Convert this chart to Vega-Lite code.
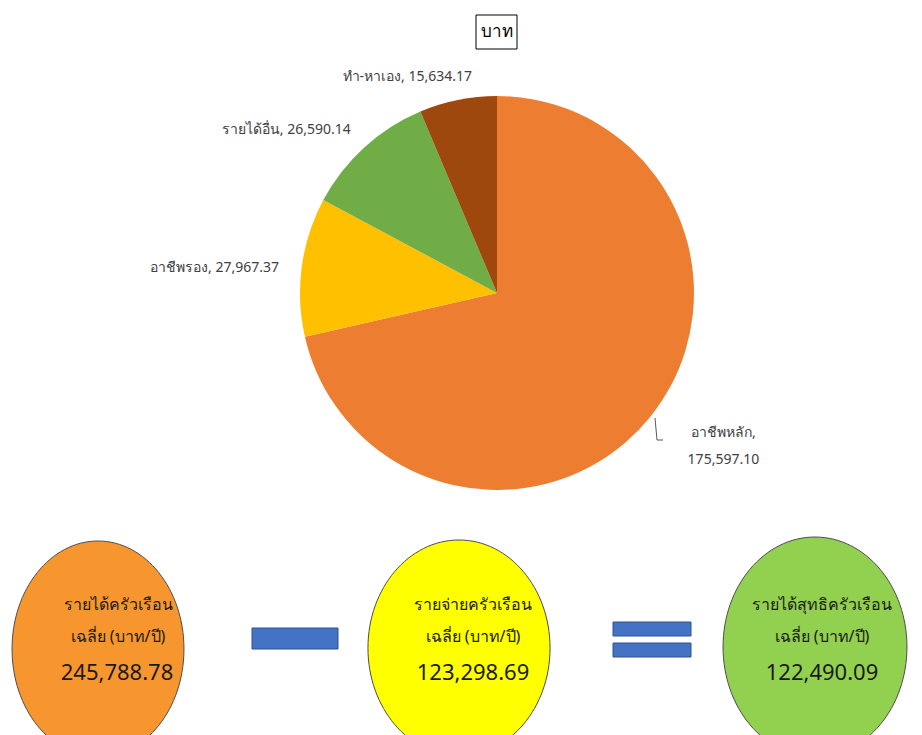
{
  "$schema": "https://vega.github.io/schema/vega-lite/v6.json",
  "width": 922,
  "height": 735,
  "autosize": {"type": "none"},
  "padding": 0,
  "background": "white",
  "config": {
    "view": {"stroke": null},
    "axis": {"disable": true},
    "font": "Tahoma, 'Noto Sans', 'DejaVu Sans', sans-serif"
  },
  "datasets": {
    "pie": [
      {"k": "main", "name": "อาชีพหลัก", "value": 175597.10, "order": 1, "label": "อาชีพหลัก, 175,597.10"},
      {"k": "second", "name": "อาชีพรอง", "value": 27967.37, "order": 2, "label": "อาชีพรอง, 27,967.37"},
      {"k": "other", "name": "รายได้อื่น", "value": 26590.14, "order": 3, "label": "รายได้อื่น, 26,590.14"},
      {"k": "self", "name": "ทำ-หาเอง", "value": 15634.17, "order": 4, "label": "ทำ-หาเอง, 15,634.17"}
    ],
    "summary": [
      {"k": "income", "title": "รายได้ครัวเรือน\nเฉลี่ย (บาท/ปี)", "amount": 245788.78},
      {"k": "expense", "title": "รายจ่ายครัวเรือน\nเฉลี่ย (บาท/ปี)", "amount": 123298.69},
      {"k": "net", "title": "รายได้สุทธิครัวเรือน\nเฉลี่ย (บาท/ปี)", "amount": 122490.09}
    ],
    "one": [{}]
  },
  "layer": [
    {
      "data": {"name": "pie"},
      "mark": {"type": "arc", "outerRadius": 197},
      "encoding": {
        "x": {"datum": 497, "type": "quantitative", "scale": {"domain": [0, 922], "nice": false, "zero": false}},
        "y": {"datum": 293, "type": "quantitative", "scale": {"domain": [0, 735], "nice": false, "zero": false, "reverse": true}},
        "theta": {"field": "value", "type": "quantitative", "stack": true},
        "order": {"field": "order", "type": "quantitative"},
        "color": {
          "field": "name", "type": "nominal",
          "scale": {"domain": ["อาชีพหลัก", "อาชีพรอง", "รายได้อื่น", "ทำ-หาเอง"], "range": ["#ED7D31", "#FFC000", "#70AD47", "#9E480E"]},
          "legend": null
        }
      }
    },
    {
      "data": {"name": "pie"},
      "mark": {"type": "text", "radius": 250, "dx": 31, "dy": -16, "fontSize": 14, "fill": "#404040", "lineBreak": " ", "lineHeight": 27, "align": "center", "baseline": "middle"},
      "encoding": {
        "x": {"datum": 497, "type": "quantitative"},
        "y": {"datum": 293, "type": "quantitative"},
        "theta": {"field": "value", "type": "quantitative", "stack": true},
        "order": {"field": "order", "type": "quantitative"},
        "text": {"condition": {"test": "datum.k === 'main'", "field": "label"}, "value": ""}
      }
    },
    {
      "data": {"name": "pie"},
      "mark": {"type": "text", "radius": 280, "dx": -5, "dy": 12, "fontSize": 14, "fill": "#404040", "align": "center", "baseline": "middle"},
      "encoding": {
        "x": {"datum": 497, "type": "quantitative"},
        "y": {"datum": 293, "type": "quantitative"},
        "theta": {"field": "value", "type": "quantitative", "stack": true},
        "order": {"field": "order", "type": "quantitative"},
        "text": {"condition": {"test": "datum.k === 'second'", "field": "label"}, "value": ""}
      }
    },
    {
      "data": {"name": "pie"},
      "mark": {"type": "text", "radius": 240, "dx": -49, "dy": 14, "fontSize": 14, "fill": "#404040", "align": "center", "baseline": "middle"},
      "encoding": {
        "x": {"datum": 497, "type": "quantitative"},
        "y": {"datum": 293, "type": "quantitative"},
        "theta": {"field": "value", "type": "quantitative", "stack": true},
        "order": {"field": "order", "type": "quantitative"},
        "text": {"condition": {"test": "datum.k === 'other'", "field": "label"}, "value": ""}
      }
    },
    {
      "data": {"name": "pie"},
      "mark": {"type": "text", "radius": 220, "dx": -46, "dy": 0, "fontSize": 14, "fill": "#404040", "align": "center", "baseline": "middle"},
      "encoding": {
        "x": {"datum": 497, "type": "quantitative"},
        "y": {"datum": 293, "type": "quantitative"},
        "theta": {"field": "value", "type": "quantitative", "stack": true},
        "order": {"field": "order", "type": "quantitative"},
        "text": {"condition": {"test": "datum.k === 'self'", "field": "label"}, "value": ""}
      }
    },
    {
      "data": {"name": "one"},
      "mark": {"type": "rule", "stroke": "#595959", "strokeWidth": 1},
      "encoding": {
        "x": {"datum": 655, "type": "quantitative"}, "x2": {"datum": 657},
        "y": {"datum": 418, "type": "quantitative"}, "y2": {"datum": 440}
      }
    },
    {
      "data": {"name": "one"},
      "mark": {"type": "rule", "stroke": "#595959", "strokeWidth": 1},
      "encoding": {
        "x": {"datum": 657, "type": "quantitative"}, "x2": {"datum": 663},
        "y": {"datum": 440, "type": "quantitative"}, "y2": {"datum": 440}
      }
    },
    {
      "data": {"name": "one"},
      "mark": {"type": "rect", "fill": "white", "stroke": "#000000", "strokeWidth": 1},
      "encoding": {
        "x": {"datum": 476, "type": "quantitative"}, "x2": {"datum": 517},
        "y": {"datum": 15, "type": "quantitative"}, "y2": {"datum": 49}
      }
    },
    {
      "data": {"name": "one"},
      "mark": {"type": "text", "text": "บาท", "fontSize": 17, "fill": "#000000", "align": "center", "baseline": "middle"},
      "encoding": {
        "x": {"datum": 496.5, "type": "quantitative"},
        "y": {"datum": 32, "type": "quantitative"}
      }
    },
    {
      "data": {"name": "summary"},
      "transform": [{"filter": "datum.k === 'income'"}],
      "layer": [
        {
          "mark": {"type": "point", "filled": true, "fill": "#F7962F", "fillOpacity": 1, "stroke": "#4d4d4d", "strokeWidth": 1, "shape": "M-0.796,0A0.796,1,0,1,0,0.796,0A0.796,1,0,1,0,-0.796,0Z", "size": 46656},
          "encoding": {
            "x": {"datum": 98, "type": "quantitative"},
            "y": {"datum": 649, "type": "quantitative"}
          }
        },
        {
          "mark": {"type": "text", "fontSize": 16, "fill": "#1a1a1a", "lineBreak": "\n", "lineHeight": 32, "align": "center", "baseline": "middle"},
          "encoding": {
            "x": {"datum": 118, "type": "quantitative"},
            "y": {"datum": 605, "type": "quantitative"},
            "text": {"field": "title", "type": "nominal"}
          }
        },
        {
          "mark": {"type": "text", "fontSize": 22, "fill": "#1a1a1a", "align": "center", "baseline": "middle"},
          "encoding": {
            "x": {"datum": 117, "type": "quantitative"},
            "y": {"datum": 673, "type": "quantitative"},
            "text": {"field": "amount", "type": "quantitative", "format": ",.2f"}
          }
        }
      ]
    },
    {
      "data": {"name": "summary"},
      "transform": [{"filter": "datum.k === 'expense'"}],
      "layer": [
        {
          "mark": {"type": "point", "filled": true, "fill": "#FFFF00", "fillOpacity": 1, "stroke": "#4d4d4d", "strokeWidth": 1, "shape": "M-0.843,0A0.843,1,0,1,0,0.843,0A0.843,1,0,1,0,-0.843,0Z", "size": 46656},
          "encoding": {
            "x": {"datum": 459, "type": "quantitative"},
            "y": {"datum": 648, "type": "quantitative"}
          }
        },
        {
          "mark": {"type": "text", "fontSize": 16, "fill": "#1a1a1a", "lineBreak": "\n", "lineHeight": 32, "align": "center", "baseline": "middle"},
          "encoding": {
            "x": {"datum": 473, "type": "quantitative"},
            "y": {"datum": 605, "type": "quantitative"},
            "text": {"field": "title", "type": "nominal"}
          }
        },
        {
          "mark": {"type": "text", "fontSize": 22, "fill": "#1a1a1a", "align": "center", "baseline": "middle"},
          "encoding": {
            "x": {"datum": 473, "type": "quantitative"},
            "y": {"datum": 673, "type": "quantitative"},
            "text": {"field": "amount", "type": "quantitative", "format": ",.2f"}
          }
        }
      ]
    },
    {
      "data": {"name": "summary"},
      "transform": [{"filter": "datum.k === 'net'"}],
      "layer": [
        {
          "mark": {"type": "point", "filled": true, "fill": "#92D050", "fillOpacity": 1, "stroke": "#4d4d4d", "strokeWidth": 1, "shape": "M-0.836,0A0.836,1,0,1,0,0.836,0A0.836,1,0,1,0,-0.836,0Z", "size": 48400},
          "encoding": {
            "x": {"datum": 815, "type": "quantitative"},
            "y": {"datum": 647, "type": "quantitative"}
          }
        },
        {
          "mark": {"type": "text", "fontSize": 16, "fill": "#1a1a1a", "lineBreak": "\n", "lineHeight": 32, "align": "center", "baseline": "middle"},
          "encoding": {
            "x": {"datum": 822, "type": "quantitative"},
            "y": {"datum": 605, "type": "quantitative"},
            "text": {"field": "title", "type": "nominal"}
          }
        },
        {
          "mark": {"type": "text", "fontSize": 22, "fill": "#1a1a1a", "align": "center", "baseline": "middle"},
          "encoding": {
            "x": {"datum": 822, "type": "quantitative"},
            "y": {"datum": 673, "type": "quantitative"},
            "text": {"field": "amount", "type": "quantitative", "format": ",.2f"}
          }
        }
      ]
    },
    {
      "data": {"name": "one"},
      "mark": {"type": "rect", "fill": "#4472C4", "stroke": "#2F528F", "strokeWidth": 1},
      "encoding": {
        "x": {"datum": 252, "type": "quantitative"}, "x2": {"datum": 338},
        "y": {"datum": 628, "type": "quantitative"}, "y2": {"datum": 649}
      }
    },
    {
      "data": {"name": "one"},
      "mark": {"type": "rect", "fill": "#4472C4", "stroke": "#2F528F", "strokeWidth": 1},
      "encoding": {
        "x": {"datum": 613, "type": "quantitative"}, "x2": {"datum": 691},
        "y": {"datum": 622, "type": "quantitative"}, "y2": {"datum": 636}
      }
    },
    {
      "data": {"name": "one"},
      "mark": {"type": "rect", "fill": "#4472C4", "stroke": "#2F528F", "strokeWidth": 1},
      "encoding": {
        "x": {"datum": 613, "type": "quantitative"}, "x2": {"datum": 691},
        "y": {"datum": 643, "type": "quantitative"}, "y2": {"datum": 657}
      }
    }
  ]
}
